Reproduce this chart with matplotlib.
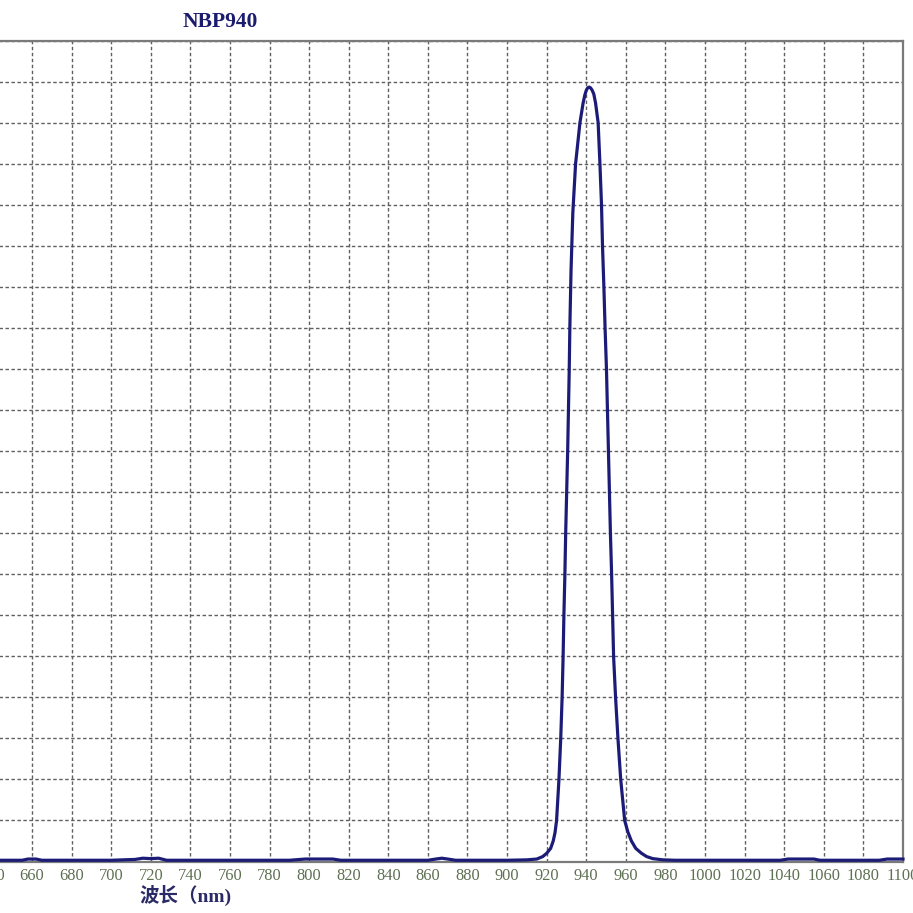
import matplotlib
matplotlib.use("Agg")
import matplotlib.pyplot as plt

# Data (wavelength nm, transmittance %)
wavelength = [640, 655, 658, 660, 662, 665, 700, 712, 716, 720, 724, 728,
              790, 798, 812, 816, 860, 864, 867, 870, 874, 900, 910, 915,
              918, 920, 922, 923.3, 924.2, 925.0, 925.6, 926.2, 927.1, 927.8,
              928.3, 928.7, 929.2, 929.6, 930.1, 930.6, 931.0, 931.4, 931.7,
              932.3, 933.2, 934.6, 936.8, 938.4, 939.3, 940.0, 940.7, 941.5,
              942.2, 943.0, 943.8, 944.7, 946.0, 946.9, 947.7, 948.2, 948.9,
              949.5, 950.2, 950.7, 951.2, 951.7, 952.2, 952.8, 953.3, 953.8,
              954.8, 956.0, 957.4, 959.4, 961.0, 962.8, 965.0, 967.9, 970.5,
              973.6, 978.7, 985, 1000, 1038, 1042, 1055, 1058, 1088, 1092, 1100]
transmittance = [0.15, 0.15, 0.3, 0.3, 0.3, 0.15, 0.15, 0.25, 0.4, 0.35, 0.4, 0.15,
                 0.15, 0.3, 0.3, 0.15, 0.15, 0.3, 0.4, 0.3, 0.15, 0.15, 0.2, 0.3,
                 0.6, 1.0, 1.6, 2.5, 3.5, 5.0, 7.5, 10, 15, 20,
                 25, 30, 35, 40, 45, 50, 55, 60, 65,
                 72, 79, 85, 90, 92.4, 93.4, 93.95, 94.25, 94.35,
                 94.25, 93.95, 93.5, 92.4, 90, 85, 80, 75, 70,
                 65, 60, 55, 50, 45, 40, 35, 30, 25,
                 20, 15, 10, 5, 3.6, 2.5, 1.6, 1.0, 0.6,
                 0.35, 0.2, 0.15, 0.15, 0.15, 0.3, 0.3, 0.15, 0.15, 0.3, 0.3]
x_ticks = list(range(640, 1101, 20))
y_grid = list(range(0, 101, 5))
title_text = "NBP940"
xlabel_text = "波长（nm)"

W, H = 913, 913
fig = plt.figure(figsize=(W / 100, H / 100), dpi=100)
fig.patch.set_facecolor("white")

left_px, right_px, top_px, bottom_px = -7.6, 903, 40.7, 861.5
ax = fig.add_axes([left_px / W, (H - bottom_px) / H,
                   (right_px - left_px) / W, (bottom_px - top_px) / H])

ax.plot(wavelength, transmittance, color="#1c1c78", lw=2.3,
        solid_joinstyle="round", zorder=3, clip_on=False)

ax.set_xlim(640, 1100)
ax.set_ylim(0, 100)
ax.set_xticks(x_ticks)
ax.set_xticklabels([str(t) for t in x_ticks])
ax.set_yticks(y_grid)
ax.set_yticklabels([])
ax.tick_params(axis="both", length=0)
ax.tick_params(axis="x", pad=5, labelsize=11.8, labelcolor="#5e7052")
for lab in ax.get_xticklabels():
    lab.set_family("Liberation Serif")

ax.grid(True, color="#606060", lw=1.0, linestyle=(0, (2.5, 1.8)))
ax.set_axisbelow(True)

for side in ["top", "right", "bottom"]:
    ax.spines[side].set_color("#7a7a7a")
    ax.spines[side].set_linewidth(1.6)
ax.spines["left"].set_visible(False)

fig.text(220 / W, 1 - 22 / H, title_text, ha="center", va="center",
         family="Liberation Serif", fontweight="bold", fontsize=15.5,
         color="#1c1c6e")
fig.text(185 / W, 1 - 895 / H, xlabel_text, ha="center", va="center",
         family=["Liberation Serif", "Noto Sans CJK SC"], fontweight="bold",
         fontsize=14, color="#2a2a66")

fig.savefig("out.png", dpi=100, facecolor="white")
